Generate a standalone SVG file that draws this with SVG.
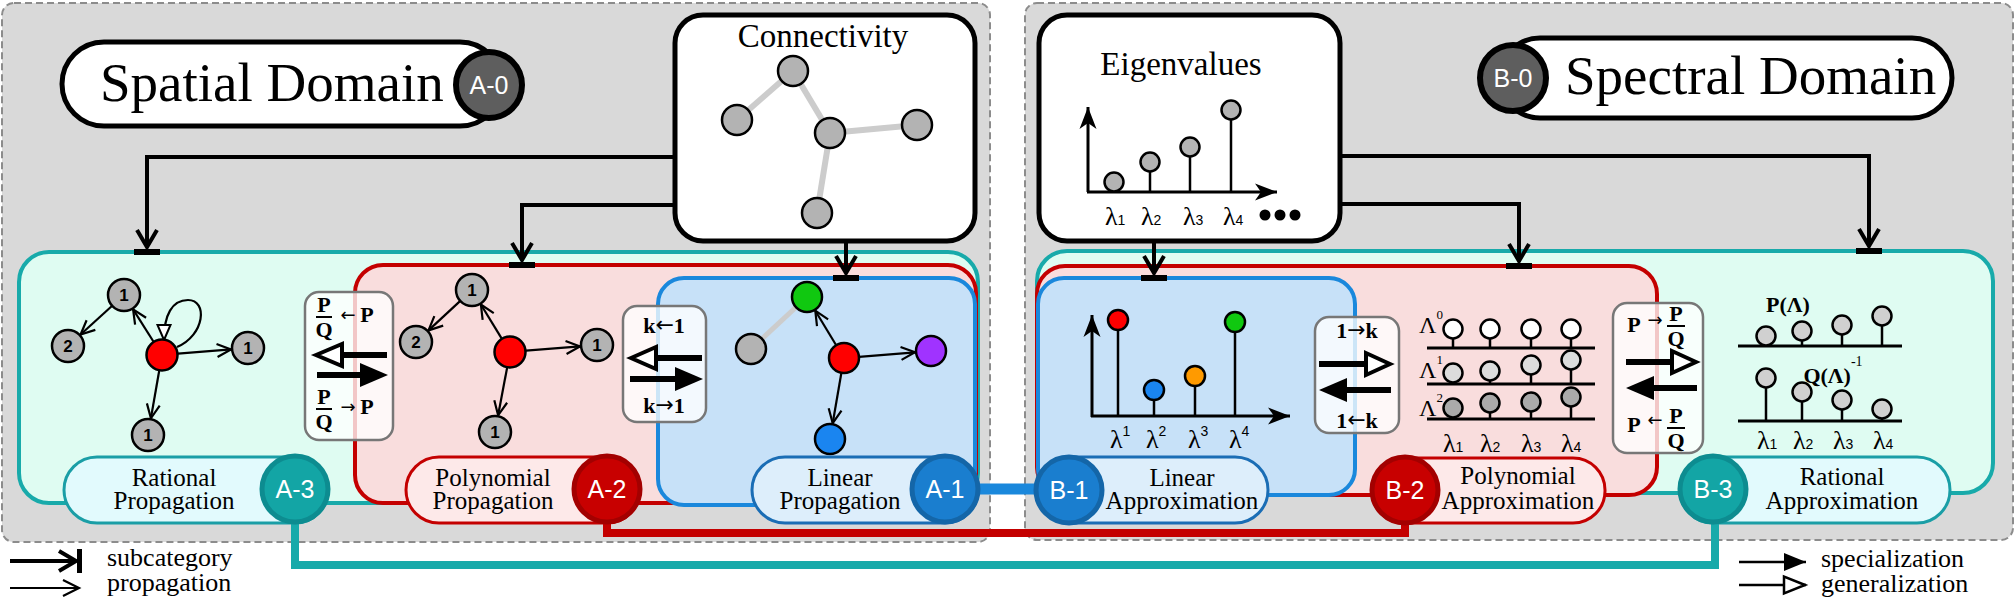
<svg xmlns="http://www.w3.org/2000/svg" width="2016" height="603" viewBox="0 0 2016 603">
<defs>
<style>
.serif{font-family:"Liberation Serif","Times New Roman",serif;}
.sans{font-family:"Liberation Sans",Arial,sans-serif;}
.arr{font-family:"DejaVu Sans","Liberation Sans",sans-serif;font-weight:normal;}
.panel{fill:#d9d9d9;stroke:#8c8c8c;stroke-width:2;stroke-dasharray:7 4;}
.topbox{fill:#fff;stroke:#000;stroke-width:5;}
.conn{fill:none;stroke:#000;stroke-width:4;marker-end:url(#subArrow);}
.gnode{fill:#b3b3b3;stroke:#000;stroke-width:2.5;}
.edge{stroke:#000;stroke-width:2.2;fill:none;marker-end:url(#openV);}
.nl{font-family:"Liberation Sans",Arial,sans-serif;font-weight:bold;font-size:17px;text-anchor:middle;}
.cl{font-family:"Liberation Sans",Arial,sans-serif;font-size:25px;fill:#fff;text-anchor:middle;}
.pl{font-family:"Liberation Serif","Times New Roman",serif;font-size:25px;text-anchor:middle;}
.opbox{fill:#fff;fill-opacity:0.78;stroke:#777;stroke-width:2.5;}
.bt{font-family:"Liberation Serif","Times New Roman",serif;font-weight:bold;font-size:22px;text-anchor:middle;}
.thick{stroke:#000;stroke-width:6;fill:none;}
.hol{fill:#fff;stroke:#000;stroke-width:4;stroke-linejoin:miter;}
.stem{stroke:#000;stroke-width:2.5;}
.sc{stroke:#000;stroke-width:2.5;}
.lam{font-family:"Liberation Serif","Times New Roman",serif;font-size:26px;}
.sub{font-family:"Liberation Sans",Arial,sans-serif;font-size:14px;}
</style>
<marker id="subArrow" markerUnits="userSpaceOnUse" markerWidth="40" markerHeight="40" viewBox="-20 -20 40 40" refX="0" refY="0" orient="auto" overflow="visible">
<path d="M-17,-10 L0,0 L-17,10" fill="none" stroke="#000" stroke-width="4"/>
</marker>
<marker id="openV" markerUnits="userSpaceOnUse" markerWidth="30" markerHeight="30" viewBox="-15 -15 30 30" refX="0" refY="0" orient="auto" overflow="visible">
<path d="M-14,-6.5 L0,0 L-14,6.5" fill="none" stroke="#000" stroke-width="2.2"/>
</marker>
<marker id="openVL" markerUnits="userSpaceOnUse" markerWidth="30" markerHeight="30" viewBox="-15 -15 30 30" refX="0" refY="0" orient="auto" overflow="visible">
<path d="M-16,-8 L0,0 L-16,8" fill="none" stroke="#000" stroke-width="2.2"/>
</marker>
<marker id="hollowSmall" markerUnits="userSpaceOnUse" markerWidth="30" markerHeight="30" viewBox="-15 -15 30 30" refX="0" refY="0" orient="auto" overflow="visible">
<path d="M0,0 L-15,-6.5 L-15,6.5 Z" fill="#fff" stroke="#000" stroke-width="2"/>
</marker>
<marker id="stealth" markerUnits="userSpaceOnUse" markerWidth="40" markerHeight="40" viewBox="-20 -20 40 40" refX="0" refY="0" orient="auto" overflow="visible">
<path d="M0,0 L-22,-8.5 L-16,0 L-22,8.5 Z" fill="#000"/>
</marker>
<marker id="solidTri" markerUnits="userSpaceOnUse" markerWidth="40" markerHeight="40" viewBox="-25 -20 40 40" refX="0" refY="0" orient="auto" overflow="visible">
<path d="M0,0 L-22,-9 L-22,9 Z" fill="#000"/>
</marker>
<marker id="hollowTri" markerUnits="userSpaceOnUse" markerWidth="40" markerHeight="40" viewBox="-25 -20 40 40" refX="0" refY="0" orient="auto" overflow="visible">
<path d="M-1,0 L-22,-8.5 L-22,8.5 Z" fill="#fff" stroke="#000" stroke-width="2.5"/>
</marker>
</defs>

<rect x="0" y="0" width="2016" height="603" fill="#fff"/>

<!-- panels -->
<g id="panel-spatial"><rect class="panel" x="2" y="3" width="988" height="539" rx="12"/></g>
<g id="panel-spectral"><rect class="panel" x="1025" y="3" width="988" height="537" rx="12"/></g>

<!-- category boxes -->
<g id="box-A3"><rect x="19" y="252" width="959" height="251" rx="30" fill="#dffcf2" stroke="#18aaaa" stroke-width="4"/></g>
<g id="box-A2"><rect x="355" y="265" width="621" height="238" rx="28" fill="#f9dddd" stroke="#c40000" stroke-width="4"/></g>
<g id="box-A1"><rect x="658" y="278" width="317" height="227" rx="26" fill="#c7e1f8" stroke="#1a88dc" stroke-width="4"/></g>
<g id="box-B3"><rect x="1037" y="251" width="956" height="242" rx="30" fill="#dffcf2" stroke="#18aaaa" stroke-width="4"/></g>
<g id="box-B2"><rect x="1037" y="266" width="620" height="229" rx="28" fill="#f9dddd" stroke="#c40000" stroke-width="4"/></g>
<g id="box-B1"><rect x="1038" y="278" width="317" height="217" rx="26" fill="#c7e1f8" stroke="#1a88dc" stroke-width="4"/></g>

<!-- Spatial title -->
<g id="node-A0">
<rect x="62" y="42" width="440" height="84" rx="42" fill="#fff" stroke="#000" stroke-width="5"/>
<text class="serif" x="100" y="101" font-size="55">Spatial Domain</text>
<circle cx="489" cy="85" r="33" fill="#5e5e5e" stroke="#000" stroke-width="6"/>
<text class="cl" x="489" y="94" font-size="24">A-0</text>
</g>

<!-- Spectral title -->
<g id="node-B0">
<rect x="1500" y="38" width="452" height="80" rx="40" fill="#fff" stroke="#000" stroke-width="5"/>
<text class="serif" x="1565" y="94" font-size="55">Spectral Domain</text>
<circle cx="1513" cy="78" r="33" fill="#5e5e5e" stroke="#000" stroke-width="6"/>
<text class="cl" x="1513" y="87" font-size="24">B-0</text>
</g>

<!-- Connectivity -->
<g id="node-connectivity">
<rect class="topbox" x="675" y="15" width="300" height="226" rx="28"/>
<text class="serif" x="823" y="47" font-size="33" text-anchor="middle">Connectivity</text>
<g stroke="#cccccc" stroke-width="6">
<line x1="737" y1="120" x2="793" y2="71"/>
<line x1="793" y1="71" x2="830" y2="133"/>
<line x1="830" y1="133" x2="917" y2="125"/>
<line x1="830" y1="133" x2="817" y2="213"/>
</g>
<circle class="gnode" cx="793" cy="71" r="15"/>
<circle class="gnode" cx="737" cy="120" r="15"/>
<circle class="gnode" cx="830" cy="133" r="15"/>
<circle class="gnode" cx="917" cy="125" r="15"/>
<circle class="gnode" cx="817" cy="213" r="15"/>
</g>

<!-- Eigenvalues -->
<g id="node-eigenvalues">
<rect class="topbox" x="1039" y="15" width="301" height="226" rx="28"/>
<text class="serif" x="1181" y="75" font-size="33" text-anchor="middle">Eigenvalues</text>
<line x1="1088" y1="192" x2="1088" y2="107" stroke="#000" stroke-width="3" marker-end="url(#stealth)"/>
<line x1="1087" y1="192" x2="1277" y2="192" stroke="#000" stroke-width="3" marker-end="url(#stealth)"/>
<line class="stem" x1="1150" y1="171" x2="1150" y2="192"/>
<line class="stem" x1="1190" y1="156" x2="1190" y2="192"/>
<line class="stem" x1="1231" y1="119" x2="1231" y2="192"/>
<circle cx="1114" cy="182" r="9.5" fill="#b3b3b3" stroke="#000" stroke-width="2.5"/>
<circle cx="1150" cy="162" r="9.5" fill="#b3b3b3" stroke="#000" stroke-width="2.5"/>
<circle cx="1190" cy="147" r="9.5" fill="#b3b3b3" stroke="#000" stroke-width="2.5"/>
<circle cx="1231" cy="110" r="9.5" fill="#b3b3b3" stroke="#000" stroke-width="2.5"/>
<text class="lam" x="1105" y="225">λ<tspan class="sub">1</tspan></text>
<text class="lam" x="1141" y="225">λ<tspan class="sub">2</tspan></text>
<text class="lam" x="1183" y="225">λ<tspan class="sub">3</tspan></text>
<text class="lam" x="1223" y="225">λ<tspan class="sub">4</tspan></text>
<circle cx="1265" cy="215" r="5.5"/>
<circle cx="1280" cy="215" r="5.5"/>
<circle cx="1295" cy="215" r="5.5"/>
</g>

<!-- Rational propagation graph -->
<g id="graph-A3">
<path class="edge" d="M153.4,341.5 L133.1,309.4"/>
<path class="edge" d="M112.2,305.8 L80.6,334.5"/>
<path class="edge" d="M178,353.7 L231,349.4"/>
<path class="edge" d="M159.2,370.8 L150.9,418.3"/>
<path d="M177,347 C205,335 208,300 188,300 C172,300 164,315 164,340" fill="none" stroke="#000" stroke-width="2.2" marker-end="url(#hollowSmall)"/>
<circle class="gnode" cx="124" cy="295" r="16"/><text class="nl" x="124" y="301">1</text>
<circle class="gnode" cx="68" cy="346" r="16"/><text class="nl" x="68" y="352">2</text>
<circle class="gnode" cx="248" cy="348" r="16"/><text class="nl" x="248" y="354">1</text>
<circle class="gnode" cx="148" cy="435" r="16"/><text class="nl" x="148" y="441">1</text>
<circle cx="162" cy="355" r="15.5" fill="#ff0000" stroke="#000" stroke-width="2.5"/>
</g>

<!-- Polynomial propagation graph -->
<g id="graph-A2">
<path class="edge" d="M501.6,338.4 L480.9,304.5"/>
<path class="edge" d="M460.3,300.9 L428.5,330.4"/>
<path class="edge" d="M526,350.7 L580,346.4"/>
<path class="edge" d="M507.1,367.7 L498.1,415.3"/>
<circle class="gnode" cx="472" cy="290" r="16"/><text class="nl" x="472" y="296">1</text>
<circle class="gnode" cx="416" cy="342" r="16"/><text class="nl" x="416" y="348">2</text>
<circle class="gnode" cx="597" cy="345" r="16"/><text class="nl" x="597" y="351">1</text>
<circle class="gnode" cx="495" cy="432" r="16"/><text class="nl" x="495" y="438">1</text>
<circle cx="510" cy="352" r="15.5" fill="#ff0000" stroke="#000" stroke-width="2.5"/>
</g>

<!-- Linear propagation graph -->
<g id="graph-A1">
<line x1="751" y1="349" x2="807" y2="297" stroke="#cccccc" stroke-width="5"/>
<path class="edge" d="M836.2,345.2 L815.3,310.7"/>
<path class="edge" d="M859,356.8 L915,352.3"/>
<path class="edge" d="M841.4,372.8 L832.7,423.2"/>
<circle class="gnode" cx="751" cy="349" r="15"/>
<circle cx="807" cy="297" r="15" fill="#10c810" stroke="#000" stroke-width="2.5"/>
<circle cx="844" cy="358" r="15" fill="#ff0000" stroke="#000" stroke-width="2.5"/>
<circle cx="931" cy="351" r="15" fill="#a033ff" stroke="#000" stroke-width="2.5"/>
<circle cx="830" cy="439" r="15" fill="#1a85f0" stroke="#000" stroke-width="2.5"/>
</g>

<!-- Linear approximation chart -->
<g id="chart-B1">
<line x1="1092" y1="417" x2="1092" y2="315" stroke="#000" stroke-width="3" marker-end="url(#stealth)"/>
<line x1="1091" y1="416" x2="1290" y2="416" stroke="#000" stroke-width="3" marker-end="url(#stealth)"/>
<line class="stem" x1="1118" y1="330" x2="1118" y2="416"/>
<line class="stem" x1="1154" y1="400" x2="1154" y2="416"/>
<line class="stem" x1="1195" y1="386" x2="1195" y2="416"/>
<line class="stem" x1="1235" y1="332" x2="1235" y2="416"/>
<circle cx="1118" cy="320" r="10" fill="#ff0000" stroke="#000" stroke-width="2.5"/>
<circle cx="1154" cy="390" r="10" fill="#1a85f0" stroke="#000" stroke-width="2.5"/>
<circle cx="1195" cy="376" r="10" fill="#ff9a00" stroke="#000" stroke-width="2.5"/>
<circle cx="1235" cy="322" r="10" fill="#10c810" stroke="#000" stroke-width="2.5"/>
<text class="lam" x="1110" y="448" font-size="28">λ<tspan class="sub" dy="-12">1</tspan></text>
<text class="lam" x="1146" y="448" font-size="28">λ<tspan class="sub" dy="-12">2</tspan></text>
<text class="lam" x="1188" y="448" font-size="28">λ<tspan class="sub" dy="-12">3</tspan></text>
<text class="lam" x="1229" y="448" font-size="28">λ<tspan class="sub" dy="-12">4</tspan></text>
</g>

<!-- Polynomial approximation chart -->
<g id="chart-B2">
<g stroke="#000" stroke-width="3">
<line x1="1427" y1="348" x2="1595" y2="348"/>
<line x1="1427" y1="384" x2="1595" y2="384"/>
<line x1="1427" y1="419" x2="1595" y2="419"/>
</g>
<g class="sc">
<line x1="1453" y1="338" x2="1453" y2="348"/><line x1="1490" y1="338" x2="1490" y2="348"/><line x1="1531" y1="338" x2="1531" y2="348"/><line x1="1571" y1="338" x2="1571" y2="348"/>
<line x1="1490" y1="380" x2="1490" y2="384"/><line x1="1531" y1="374" x2="1531" y2="384"/><line x1="1571" y1="369" x2="1571" y2="384"/>
<line x1="1490" y1="412" x2="1490" y2="419"/><line x1="1531" y1="411" x2="1531" y2="419"/><line x1="1571" y1="406" x2="1571" y2="419"/>
</g>
<g stroke="#000" stroke-width="2.5">
<circle cx="1453" cy="329" r="9.5" fill="#fff"/><circle cx="1490" cy="329" r="9.5" fill="#fff"/><circle cx="1531" cy="329" r="9.5" fill="#fff"/><circle cx="1571" cy="329" r="9.5" fill="#fff"/>
<circle cx="1453" cy="373" r="9.5" fill="#dcdcdc"/><circle cx="1490" cy="371" r="9.5" fill="#dcdcdc"/><circle cx="1531" cy="365" r="9.5" fill="#dcdcdc"/><circle cx="1571" cy="360" r="9.5" fill="#dcdcdc"/>
<circle cx="1453" cy="408" r="9.5" fill="#aaaaaa"/><circle cx="1490" cy="403" r="9.5" fill="#aaaaaa"/><circle cx="1531" cy="402" r="9.5" fill="#aaaaaa"/><circle cx="1571" cy="397" r="9.5" fill="#aaaaaa"/>
</g>
<text class="serif" x="1419" y="333" font-size="24">Λ<tspan font-size="13" dy="-14">0</tspan></text>
<text class="serif" x="1419" y="378" font-size="24">Λ<tspan font-size="13" dy="-14">1</tspan></text>
<text class="serif" x="1419" y="416" font-size="24">Λ<tspan font-size="13" dy="-14">2</tspan></text>
<text class="lam" x="1443" y="452">λ<tspan class="sub">1</tspan></text>
<text class="lam" x="1480" y="452">λ<tspan class="sub">2</tspan></text>
<text class="lam" x="1521" y="452">λ<tspan class="sub">3</tspan></text>
<text class="lam" x="1561" y="452">λ<tspan class="sub">4</tspan></text>
</g>

<!-- Rational approximation chart -->
<g id="chart-B3">
<text class="bt" x="1788" y="312" font-size="26">P(Λ)</text>
<line x1="1738" y1="346" x2="1902" y2="346" stroke="#000" stroke-width="3"/>
<line x1="1738" y1="421" x2="1902" y2="421" stroke="#000" stroke-width="3"/>
<g class="sc">
<line x1="1802" y1="340" x2="1802" y2="346"/><line x1="1842" y1="334" x2="1842" y2="346"/><line x1="1882" y1="325" x2="1882" y2="346"/>
<line x1="1766" y1="387" x2="1766" y2="421"/><line x1="1802" y1="401" x2="1802" y2="421"/><line x1="1842" y1="409" x2="1842" y2="421"/><line x1="1882" y1="417" x2="1882" y2="421"/>
</g>
<g fill="#d0d0d0" stroke="#000" stroke-width="2.5">
<circle cx="1766" cy="336" r="9.5"/><circle cx="1802" cy="331" r="9.5"/><circle cx="1842" cy="325" r="9.5"/><circle cx="1882" cy="316" r="9.5"/>
<circle cx="1766" cy="378" r="9.5"/><circle cx="1802" cy="392" r="9.5"/><circle cx="1842" cy="400" r="9.5"/><circle cx="1882" cy="409" r="9.5"/>
</g>
<text class="bt" x="1833" y="383" font-size="26" text-anchor="start">Q(Λ)<tspan font-size="14" font-weight="normal" dy="-17">-1</tspan></text>
<text class="lam" x="1757" y="449">λ<tspan class="sub">1</tspan></text>
<text class="lam" x="1793" y="449">λ<tspan class="sub">2</tspan></text>
<text class="lam" x="1833" y="449">λ<tspan class="sub">3</tspan></text>
<text class="lam" x="1873" y="449">λ<tspan class="sub">4</tspan></text>
</g>

<!-- transition boxes -->
<g id="trans-A3-A2">
<rect class="opbox" x="305" y="292" width="88" height="148" rx="14"/>
<text class="bt" x="324" y="312">P</text>
<line x1="316" y1="317" x2="332" y2="317" stroke="#000" stroke-width="2"/>
<text class="bt" x="324" y="337">Q</text>
<text class="arr" x="348" y="321" font-size="18" text-anchor="middle">←</text>
<text class="bt" x="367" y="322">P</text>
<polygon class="hol" points="316,355 342,344 342,366"/>
<line class="thick" x1="342" y1="355" x2="387" y2="355"/>
<line class="thick" x1="317" y1="375" x2="362" y2="375"/>
<polygon points="388,375 360,363 360,387" fill="#000"/>
<text class="bt" x="324" y="404">P</text>
<line x1="316" y1="409" x2="332" y2="409" stroke="#000" stroke-width="2"/>
<text class="bt" x="324" y="429">Q</text>
<text class="arr" x="348" y="413" font-size="18" text-anchor="middle">→</text>
<text class="bt" x="367" y="414">P</text>
</g>

<g id="trans-A2-A1">
<rect class="opbox" x="623" y="306" width="83" height="116" rx="14"/>
<text class="bt" x="664" y="333" font-size="23">k<tspan class="arr" font-size="22" dy="-1">←</tspan><tspan dy="1">1</tspan></text>
<polygon class="hol" points="631,358 656,347 656,369"/>
<line class="thick" x1="656" y1="358" x2="702" y2="358"/>
<line class="thick" x1="630" y1="379" x2="677" y2="379"/>
<polygon points="703,379 675,367 675,391" fill="#000"/>
<text class="bt" x="664" y="413" font-size="23">k<tspan class="arr" font-size="22" dy="-1">→</tspan><tspan dy="1">1</tspan></text>
</g>

<g id="trans-B1-B2">
<rect class="opbox" x="1315" y="317" width="84" height="116" rx="14"/>
<text class="bt" x="1357" y="338" font-size="23">1<tspan class="arr" font-size="22" dy="-1">→</tspan><tspan dy="1">k</tspan></text>
<line class="thick" x1="1319" y1="364" x2="1366" y2="364"/>
<polygon class="hol" points="1390,364 1366,353 1366,375"/>
<polygon points="1319,390 1347,378 1347,402" fill="#000"/>
<line class="thick" x1="1345" y1="390" x2="1391" y2="390"/>
<text class="bt" x="1357" y="428" font-size="23">1<tspan class="arr" font-size="22" dy="-1">←</tspan><tspan dy="1">k</tspan></text>
</g>

<g id="trans-B2-B3">
<rect class="opbox" x="1613" y="303" width="90" height="150" rx="14"/>
<text class="bt" x="1634" y="332">P</text>
<text class="arr" x="1655" y="326" font-size="18" text-anchor="middle">→</text>
<text class="bt" x="1676" y="321">P</text>
<line x1="1667" y1="326" x2="1685" y2="326" stroke="#000" stroke-width="2"/>
<text class="bt" x="1676" y="346">Q</text>
<line class="thick" x1="1626" y1="362" x2="1672" y2="362"/>
<polygon class="hol" points="1696,362 1672,351 1672,373"/>
<polygon points="1626,388 1654,376 1654,400" fill="#000"/>
<line class="thick" x1="1652" y1="388" x2="1697" y2="388"/>
<text class="bt" x="1634" y="432">P</text>
<text class="arr" x="1655" y="426" font-size="18" text-anchor="middle">←</text>
<text class="bt" x="1676" y="423">P</text>
<line x1="1667" y1="428" x2="1685" y2="428" stroke="#000" stroke-width="2"/>
<text class="bt" x="1676" y="448">Q</text>
</g>

<!-- connectors -->
<g id="connectors">
<path class="conn" d="M675,157 H147 V247"/>
<path class="conn" d="M675,205 H522 V260"/>
<path class="conn" d="M846,241 V273"/>
<path class="conn" d="M1340,156 H1869 V246"/>
<path class="conn" d="M1340,204 H1519 V261"/>
<path class="conn" d="M1154,241 V273"/>
<rect x="134" y="249" width="26" height="6"/>
<rect x="509" y="262" width="26" height="6"/>
<rect x="833" y="275" width="26" height="6"/>
<rect x="1856" y="248" width="26" height="6"/>
<rect x="1506" y="263" width="26" height="6"/>
<rect x="1141" y="275" width="26" height="6"/>
<path d="M295,489 V565 H1715 V489" fill="none" stroke="#18aaaa" stroke-width="8"/>
<path d="M607,489 V533 H1405 V490" fill="none" stroke="#c40000" stroke-width="8"/>
<path d="M945,489 H1069" fill="none" stroke="#1a88dc" stroke-width="11"/>
</g>

<!-- category label nodes -->
<g id="node-A3">
<rect x="64" y="457" width="264" height="66" rx="33" fill="#e2fafd" stroke="#1a9ea6" stroke-width="3"/>
<text class="pl" x="174" y="486">Rational</text>
<text class="pl" x="174" y="509">Propagation</text>
<circle cx="295" cy="489" r="33" fill="#13a5a5" stroke="#0d8c90" stroke-width="5"/>
<text class="cl" x="295" y="498">A-3</text>
</g>
<g id="node-A2">
<rect x="406" y="457" width="234" height="66" rx="33" fill="#fde9e9" stroke="#c40000" stroke-width="3"/>
<text class="pl" x="493" y="486">Polynomial</text>
<text class="pl" x="493" y="509">Propagation</text>
<circle cx="607" cy="489" r="33" fill="#c80000" stroke="#a30000" stroke-width="5"/>
<text class="cl" x="607" y="498">A-2</text>
</g>
<g id="node-A1">
<rect x="752" y="457" width="226" height="66" rx="33" fill="#ddeefb" stroke="#1a6db5" stroke-width="3"/>
<text class="pl" x="840" y="486">Linear</text>
<text class="pl" x="840" y="509">Propagation</text>
<circle cx="945" cy="489" r="33" fill="#1a7ecf" stroke="#1466a8" stroke-width="5"/>
<text class="cl" x="945" y="498">A-1</text>
</g>
<g id="node-B1">
<rect x="1036" y="457" width="232" height="66" rx="33" fill="#ddeefb" stroke="#1a6db5" stroke-width="3"/>
<text class="pl" x="1182" y="486">Linear</text>
<text class="pl" x="1182" y="509">Approximation</text>
<circle cx="1069" cy="490" r="33" fill="#1a7ecf" stroke="#1466a8" stroke-width="5"/>
<text class="cl" x="1069" y="499">B-1</text>
</g>
<g id="node-B2">
<rect x="1372" y="458" width="233" height="65" rx="32" fill="#fde9e9" stroke="#c40000" stroke-width="3"/>
<text class="pl" x="1518" y="484">Polynomial</text>
<text class="pl" x="1518" y="509">Approximation</text>
<circle cx="1405" cy="490" r="33" fill="#c80000" stroke="#a30000" stroke-width="5"/>
<text class="cl" x="1405" y="499">B-2</text>
</g>
<g id="node-B3">
<rect x="1680" y="457" width="270" height="66" rx="33" fill="#e2fafd" stroke="#1a9ea6" stroke-width="3"/>
<text class="pl" x="1842" y="485">Rational</text>
<text class="pl" x="1842" y="509">Approximation</text>
<circle cx="1713" cy="489" r="33" fill="#13a5a5" stroke="#0d8c90" stroke-width="5"/>
<text class="cl" x="1713" y="498">B-3</text>
</g>

<!-- legend -->
<g id="legend-left">
<path d="M10,561 H76" fill="none" stroke="#000" stroke-width="4" marker-end="url(#subArrow)"/>
<rect x="77" y="549" width="5" height="24"/>
<text class="serif" x="107" y="566" font-size="26">subcategory</text>
<path d="M10,588 H79" fill="none" stroke="#000" stroke-width="2" marker-end="url(#openVL)"/>
<text class="serif" x="107" y="591" font-size="26">propagation</text>
</g>
<g id="legend-right">
<path d="M1739,562 H1806" fill="none" stroke="#000" stroke-width="2.5" marker-end="url(#solidTri)"/>
<text class="serif" x="1821" y="567" font-size="26">specialization</text>
<path d="M1739,585 H1806" fill="none" stroke="#000" stroke-width="2.5" marker-end="url(#hollowTri)"/>
<text class="serif" x="1821" y="592" font-size="26">generalization</text>
</g>
</svg>
